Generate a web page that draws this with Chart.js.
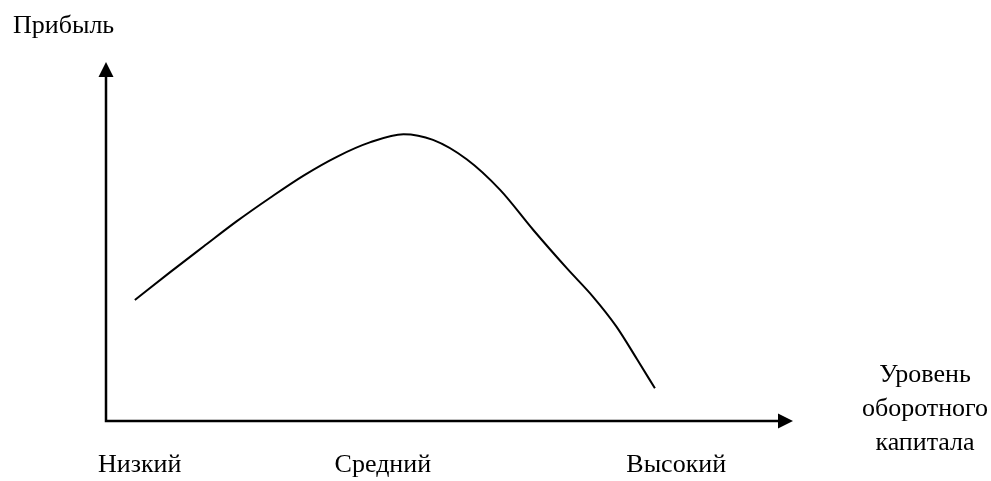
<!DOCTYPE html>
<html>
<head>
<meta charset="utf-8">
<script src="https://cdn.jsdelivr.net/npm/chart.js@4"></script>
<style>
    html, body { margin: 0; padding: 0; background: #fff; }
    #wrap { width: 991px; height: 481px; position: relative; }
</style>
</head>
<body>
<div id="wrap"><canvas id="profitChart" width="991" height="481"></canvas></div>
<script>
    'use strict';

    // curve, axes run 0..100 on both sides
    const levelX = [4.2, 9.3, 14.2, 19.0, 23.9, 28.7, 33.6, 38.4, 43.3, 47.6, 52.5, 57.4, 62.2, 67.1, 70.9, 74.3, 77.3, 79.9];
    const profitY = [33.7, 41.4, 48.6, 55.6, 62.2, 68.3, 73.6, 77.6, 79.9, 78.3, 72.9, 64.3, 53.2, 42.5, 34.6, 26.3, 17.2, 9.1];

    const categoryLabels = ['Низкий', 'Средний', 'Высокий'];
    const categoryPos = [4.9, 40.3, 83.0];
    const yAxisTitle = 'Прибыль';
    const xAxisTitle = ['Уровень', 'оборотного', 'капитала'];

    const FONT = '26px "Liberation Serif", "Times New Roman", serif';

    /**
     * Draws the two arrowed axes and all the texts around them.
     */
    const arrowAxes = {
        id: 'arrowAxes',
        afterDatasetsDraw(chart) {
            const { ctx, scales: { x, y } } = chart;
            const x0 = x.getPixelForValue(0), x1 = x.getPixelForValue(100);
            const y0 = y.getPixelForValue(0), y1 = y.getPixelForValue(100);

            ctx.save();
            ctx.strokeStyle = '#000';
            ctx.fillStyle = '#000';
            ctx.lineWidth = 2.5;
            ctx.beginPath();
            ctx.moveTo(x0, y1 + 10);
            ctx.lineTo(x0, y0);
            ctx.lineTo(x1 - 10, y0);
            ctx.stroke();

            // arrow heads
            ctx.beginPath();
            ctx.moveTo(x0, y1);
            ctx.lineTo(x0 - 7.5, y1 + 15);
            ctx.lineTo(x0 + 7.5, y1 + 15);
            ctx.closePath();
            ctx.fill();
            ctx.beginPath();
            ctx.moveTo(x1, y0);
            ctx.lineTo(x1 - 15, y0 - 7.5);
            ctx.lineTo(x1 - 15, y0 + 7.5);
            ctx.closePath();
            ctx.fill();

            ctx.font = FONT;
            ctx.textBaseline = 'alphabetic';
            ctx.textAlign = 'left';
            ctx.fillText(yAxisTitle, 13, 33);

            ctx.textAlign = 'center';
            categoryLabels.forEach((lbl, i) => {
                ctx.fillText(lbl, x.getPixelForValue(categoryPos[i]), 472);
            });
            xAxisTitle.forEach((line, i) => {
                ctx.fillText(line, 925, 382 + i * 34);
            });
            ctx.restore();
        }
    };

    new Chart(document.getElementById('profitChart'), {
        type: 'scatter',
        data: {
            datasets: [{
                data: levelX.map((v, i) => ({ x: v, y: profitY[i] })),
                showLine: true,
                borderColor: '#000',
                borderWidth: 2,
                pointRadius: 0,
                cubicInterpolationMode: 'monotone',
                fill: false
            }]
        },
        options: {
            responsive: false,
            animation: false,
            layout: { padding: { left: 106, right: 198, top: 62, bottom: 60 } },
            scales: {
                x: { type: 'linear', min: 0, max: 100, display: false },
                y: { type: 'linear', min: 0, max: 100, display: false }
            },
            plugins: { legend: { display: false }, tooltip: { enabled: false } }
        },
        plugins: [arrowAxes]
    });
</script>
</body>
</html>
